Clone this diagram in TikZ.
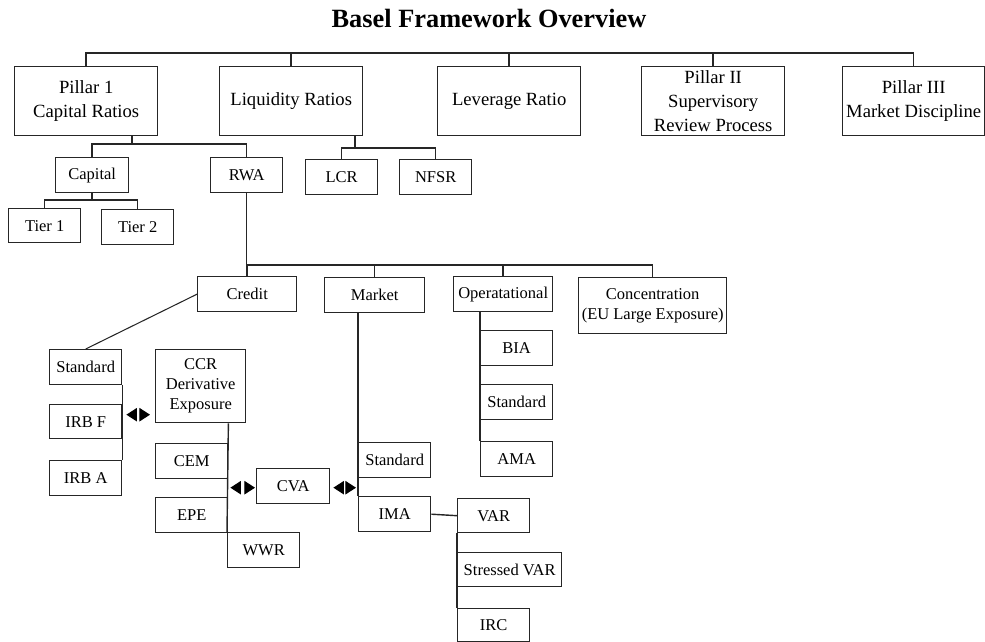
\documentclass[tikz,border=0pt]{standalone}
\usepackage{fontspec}
\setmainfont{Liberation Serif}
\usepackage{tikz}
\usetikzlibrary{calc}
\usetikzlibrary{arrows.meta}

\begin{document}
\begin{tikzpicture}[x=0.02cm,y=-0.02cm,line width=0.8pt,black!85,
	bigbox/.style={draw,anchor=north west,inner sep=1pt,align=center,minimum width=2.86cm,minimum height=1.38cm,text=black,font=\fontsize{10.6}{13.6}\selectfont},
	smallbox/.style={draw,anchor=north west,inner sep=1pt,align=center,minimum width=1.44cm,minimum height=0.70cm,text=black,font=\fontsize{9.4}{11.4}\selectfont},
	bowtie/.style={draw=white,line width=0.6pt,{Triangle[length=6pt,width=7.6pt,color=black]}-{Triangle[length=6pt,width=7.6pt,color=black]}}]
			\useasboundingbox (0,0) rectangle (985,642);
			\node[text=black,font=\fontsize{15}{18}\selectfont\bfseries] (title) at (489,18) {Basel Framework Overview};
			\node[bigbox] (pillarI) at (14,66) {Pillar 1\\Capital Ratios};
			\node[bigbox] (liquidity) at (219,66) {Liquidity Ratios};
			\node[bigbox] (leverage) at (437,66) {Leverage Ratio};
			\node[bigbox] (pillarII) at (641,66) {Pillar II\\Supervisory\\Review Process};
			\node[bigbox,minimum width=2.84cm] (pillarIII) at (842,66) {Pillar III\\Market Discipline};
			\node[smallbox,minimum width=1.46cm] (capital) at (55,157) {Capital};
			\node[smallbox] (rwa) at (210,157) {RWA};
			\node[smallbox] (lcr) at (305,159) {LCR};
			\node[smallbox] (nfsr) at (399,159) {NFSR};
			\node[smallbox,minimum height=0.68cm] (tierI) at (8,208) {Tier 1};
			\node[smallbox] (tierII) at (101,209) {Tier 2};
			\node[smallbox,minimum width=1.98cm] (credit) at (197,276) {Credit};
			\node[smallbox,minimum width=2cm] (market) at (324,277) {Market};
			\node[smallbox,minimum width=1.98cm] (operational) at (453,276) {Operatational};
			\node[smallbox,minimum width=2.96cm,minimum height=1.12cm] (concentration) at (578,277) {Concentration\\(EU Large Exposure)};
			\node[smallbox] (stdcredit) at (49,349) {Standard};
			\node[smallbox,minimum height=0.68cm] (irbF) at (49,404) {IRB F};
			\node[smallbox] (irbA) at (49,460) {IRB A};
			\node[smallbox,minimum width=1.8cm,minimum height=1.46cm] (ccr) at (155,349) {CCR\\Derivative\\Exposure};
			\node[smallbox] (cem) at (155,443) {CEM};
			\node[smallbox] (epe) at (155,497) {EPE};
			\node[smallbox] (wwr) at (227,532) {WWR};
			\node[smallbox,minimum width=1.46cm] (cva) at (256,468) {CVA};
			\node[smallbox] (stdmarket) at (358,442) {Standard};
			\node[smallbox] (ima) at (358,496) {IMA};
			\node[smallbox,minimum height=0.68cm] (var) at (457,498) {VAR};
			\node[smallbox,minimum width=2.08cm,minimum height=0.68cm] (stressedvar) at (457,552) {Stressed VAR};
			\node[smallbox,minimum height=0.66cm] (irc) at (457,608) {IRC};
			\node[smallbox] (bia) at (480,330) {BIA};
			\node[smallbox] (stdop) at (480,384) {Standard};
			\node[smallbox] (ama) at (480,441) {AMA};
			\coordinate (topbus) at (0,53);
			\draw (pillarI.north) -- (pillarI.north |- topbus) -- (pillarIII.north |- topbus) -- (pillarIII.north);
			\draw (liquidity.north) -- (liquidity.north |- topbus);
			\draw (leverage.north) -- (leverage.north |- topbus);
			\draw (pillarII.north) -- (pillarII.north |- topbus);
			\coordinate (pjoin) at (132,144);
			\draw (pillarI.south -| pjoin) -- (pjoin);
			\draw (capital.north) -- (capital.north |- pjoin) -- (rwa.north |- pjoin) -- (rwa.north);
			\coordinate (ljoin) at (355,148);
			\draw (liquidity.south -| ljoin) -- (ljoin);
			\draw (lcr.north) -- (lcr.north |- ljoin) -- (nfsr.north |- ljoin) -- (nfsr.north);
			\coordinate (cjoin) at (0,200);
			\draw (capital.south) -- (capital.south |- cjoin);
			\draw (tierI.north) -- (tierI.north |- cjoin) -- (tierII.north |- cjoin) -- (tierII.north);
			\coordinate (rjoin) at (0,265);
			\draw (rwa.south) -- (rwa.south |- rjoin);
			\draw (credit.north) -- (credit.north |- rjoin) -- (concentration.north |- rjoin) -- (concentration.north);
			\draw (market.north) -- (market.north |- rjoin);
			\draw (operational.north) -- (operational.north |- rjoin);
			\draw[line width=0.6pt] (credit.west) -- (stdcredit.north);
			\draw (stdcredit.south east) -- (irbA.north east);
			\draw (ccr.south -| cem.east) -- (wwr.north west);
			\draw (market.south -| stdmarket.west) -- (ima.north west);
			\draw (operational.south -| bia.west) -- (ama.north west);
			\draw (ima.east) -- (var.west);
			\draw (var.south west) -- (irc.north west);
			\draw[bowtie] ($(irbF.east)+(4,-7)$) -- ($(ccr.west |- irbF.east)+(-5,-7)$);
			\draw[bowtie] ($(cem.east |- cva.west)+(2,1.5)$) -- ($(cva.west)+(-1,1.5)$);
			\draw[bowtie] ($(cva.east)+(3,1.5)$) -- ($(stdmarket.west |- cva.east)+(-2,1.5)$);
		\end{tikzpicture}
\end{document}
